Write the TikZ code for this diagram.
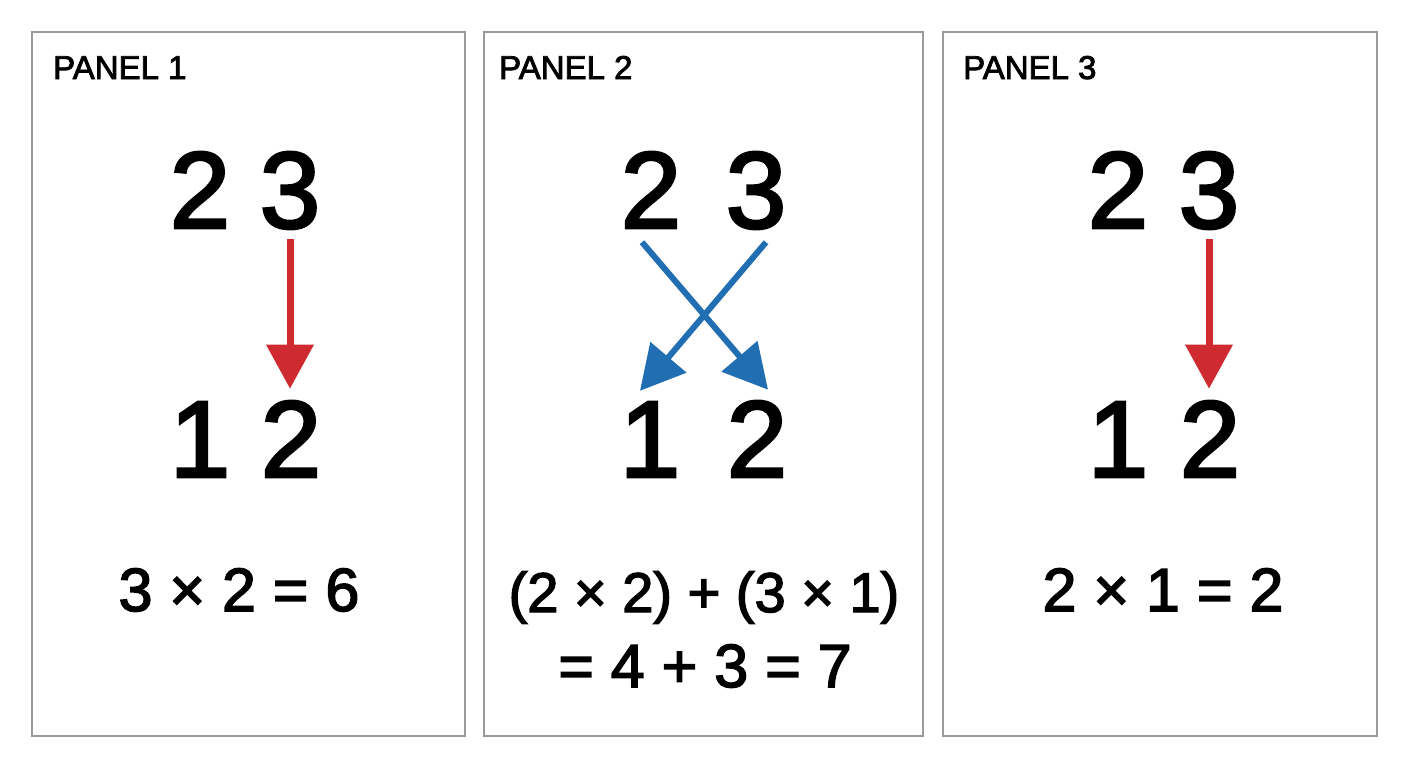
\documentclass[tikz,border=0pt]{standalone}
\usepackage{fontspec}
\setmainfont{Liberation Sans}
\newfontfamily\medfont{Liberation Sans}[FakeBold=2.5]
\usetikzlibrary{arrows.meta,calc}
\definecolor{boxgray}{HTML}{9A9A9A}
\definecolor{arrred}{HTML}{CE2A30}
\definecolor{arrblue}{HTML}{226EB2}
\tikzset{
  panelbox/.style={draw=boxgray, line width=2pt, fill=white},
  paneltitle/.style={anchor=base west, inner sep=0, font=\medfont\fontsize{33}{36}\selectfont},
  bigdigit/.style={anchor=base, inner sep=0, font=\medfont\fontsize{109}{110}\selectfont},
  eqtext/.style={anchor=base, inner sep=0, font=\medfont\fontsize{61}{64}\selectfont},
  eqsmall/.style={anchor=base, inner sep=0, font=\medfont\fontsize{56}{60}\selectfont},
  redarrow/.style={draw=arrred, line width=7pt, -{Triangle[width=46pt,length=44pt]}, arrred},
  bluearrow/.style={draw=arrblue, line width=6pt, -{Triangle[width=46pt,length=44pt]}, arrblue},
}
\begin{document}
\begin{tikzpicture}[x=1pt,y=-1pt]
\useasboundingbox[fill=white] (0,0) rectangle (1408,768);
% panels
\draw[panelbox] (32,32) rectangle (465,736);
\draw[panelbox] (484,32) rectangle (923,736);
\draw[panelbox] (943,32) rectangle (1377,736);
\node[paneltitle] (t1) at (53,79) {PANEL 1};
\node[paneltitle] (t2) at (499,79) {PANEL 2};
\node[paneltitle] (t3) at (963,79) {PANEL 3};
% panel 1
\node[bigdigit] (p1t2) at (200,228) {2};
\node[bigdigit] (p1t3) at (290,228) {3};
\node[bigdigit] (p1b1) at (200,477) {1};
\node[bigdigit] (p1b2) at (291,477) {2};
\draw[redarrow, shorten <=10pt, shorten >=12pt] (p1t3.south) -- (p1b2.north -| p1t3.south);
\node[eqtext] (e1) at (239,611) {3 × 2 = 6};
% panel 2
\node[bigdigit] (p2t2) at (651,228) {2};
\node[bigdigit] (p2t3) at (756,228) {3};
\node[bigdigit] (p2b1) at (650,477) {1};
\node[bigdigit] (p2b2) at (757,477) {2};
\draw[bluearrow] ($(p2t2.south)+(-9,14)$) -- ($(p2b2.north)+(11,-11)$);
\draw[bluearrow] ($(p2t3.south)+(10,13)$) -- ($(p2b1.north)+(-10,-11)$);
\node[eqsmall] (e2a) at (704,612) {(2 × 2) + (3 × 1)};
\node[eqtext] (e2b) at (705,687) {= 4 + 3 = 7};
% panel 3
\node[bigdigit] (p3t2) at (1118,228) {2};
\node[bigdigit] (p3t3) at (1209,228) {3};
\node[bigdigit] (p3b1) at (1118,477) {1};
\node[bigdigit] (p3b2) at (1210,477) {2};
\draw[redarrow, shorten <=10pt, shorten >=12pt] (p3t3.south) -- (p3b2.north -| p3t3.south);
\node[eqtext] (e3) at (1163,611) {2 × 1 = 2};
\end{tikzpicture}
\end{document}
